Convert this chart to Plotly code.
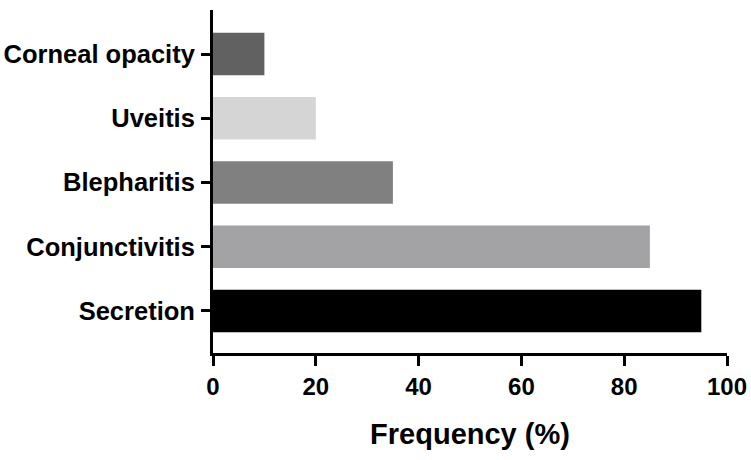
import plotly.graph_objects as go

categories = ["Secretion", "Conjunctivitis", "Blepharitis", "Uveitis", "Corneal opacity"]
values = [95, 85, 35, 20, 10]
colors = ["#000000", "#a3a3a6", "#808080", "#d5d5d5", "#616161"]
x_ticks = [0, 20, 40, 60, 80, 100]

fig = go.Figure(go.Bar(
    y=categories, x=values, orientation="h",
    marker=dict(color=colors, line=dict(width=0)),
    width=0.66,
))

font_family = "Liberation Sans, Arial, sans-serif"
fig.update_layout(
    width=751, height=460,
    margin=dict(l=213, r=24, t=10, b=107),
    plot_bgcolor="white", paper_bgcolor="white",
    showlegend=False,
    font=dict(family=font_family, color="black"),
)
fig.update_xaxes(
    range=[0, 100], tickvals=x_ticks, automargin=False,
    showgrid=False, zeroline=False,
    showline=True, linecolor="black", linewidth=3,
    ticks="outside", ticklen=10, tickwidth=3, tickcolor="black",
    tickfont=dict(size=24, family=font_family, weight="bold"),
    title=dict(text="<b>Frequency (%)</b>", font=dict(size=29, family=font_family), standoff=25),
)
fig.update_yaxes(
    range=[-0.654, 4.685], automargin=False,
    showgrid=False, zeroline=False,
    showline=True, linecolor="black", linewidth=3,
    ticks="outside", ticklen=9, tickwidth=3, tickcolor="black",
    tickfont=dict(size=25.5, family=font_family, weight="bold"),
    ticklabelstandoff=1,
)

fig.write_html("out.html")
